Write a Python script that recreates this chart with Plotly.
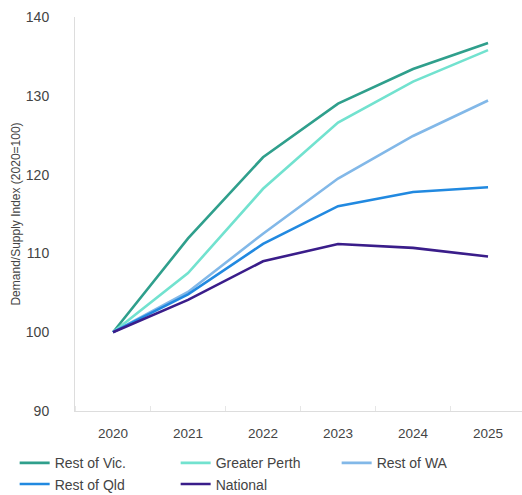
import plotly.graph_objects as go

years = ["2020", "2021", "2022", "2023", "2024", "2025"]
rest_of_vic = [100, 111.9, 122.2, 129.0, 133.4, 136.7]
greater_perth = [100, 107.5, 118.2, 126.6, 131.8, 135.8]
rest_of_wa = [100, 105.1, 112.5, 119.5, 124.9, 129.4]
rest_of_qld = [100, 104.8, 111.2, 116.0, 117.8, 118.4]
national = [100, 104.1, 109.0, 111.2, 110.7, 109.6]

series = [
    ("Rest of Vic.", rest_of_vic, "#2f9f8c"),
    ("Greater Perth", greater_perth, "#72e2cf"),
    ("Rest of WA", rest_of_wa, "#82b8e8"),
    ("Rest of Qld", rest_of_qld, "#2189e0"),
    ("National", national, "#3a1d8a"),
]

xpos = list(range(len(years)))

fig = go.Figure()
for name, vals, color in series:
    fig.add_trace(go.Scatter(
        x=xpos, y=vals, name=name, mode="lines",
        line=dict(color=color, width=2.6),
    ))

fig.update_layout(
    width=522, height=495,
    margin=dict(l=75, r=0, t=17, b=84, autoexpand=False),
    paper_bgcolor="white", plot_bgcolor="white",
    font=dict(family="Liberation Sans, Arial, sans-serif", color="#555555", size=13),
    showlegend=True,
    legend=dict(
        orientation="h", x=-0.135, y=-0.092, xanchor="left", yanchor="top",
        entrywidth=116, entrywidthmode="pixels",
        font=dict(size=14, color="#444444"),
        itemwidth=30, tracegroupgap=0,
    ),
)

fig.update_xaxes(
    range=[-0.507, 5.453],
    tickvals=xpos, ticktext=years,
    showgrid=False, zeroline=False,
    showline=True, linecolor="#dddddd", linewidth=1,
    ticks="", ticklabelstandoff=10,
    tickfont=dict(size=13.5, color="#444444"),
    minor=dict(tick0=0.5, dtick=1, ticks="inside", ticklen=5, tickcolor="#e6e6e6"),
)

fig.update_yaxes(
    range=[90, 140],
    tickvals=[90, 100, 110, 120, 130, 140],
    showgrid=False, zeroline=False,
    showline=True, linecolor="#dddddd", linewidth=1,
    ticks="", ticklabelstandoff=22,
    tickfont=dict(size=14, color="#444444"),
    title=dict(text="Demand/Supply Index (2020=100)", font=dict(size=12, color="#444444"), standoff=2),
)

fig.write_html("out.html")
